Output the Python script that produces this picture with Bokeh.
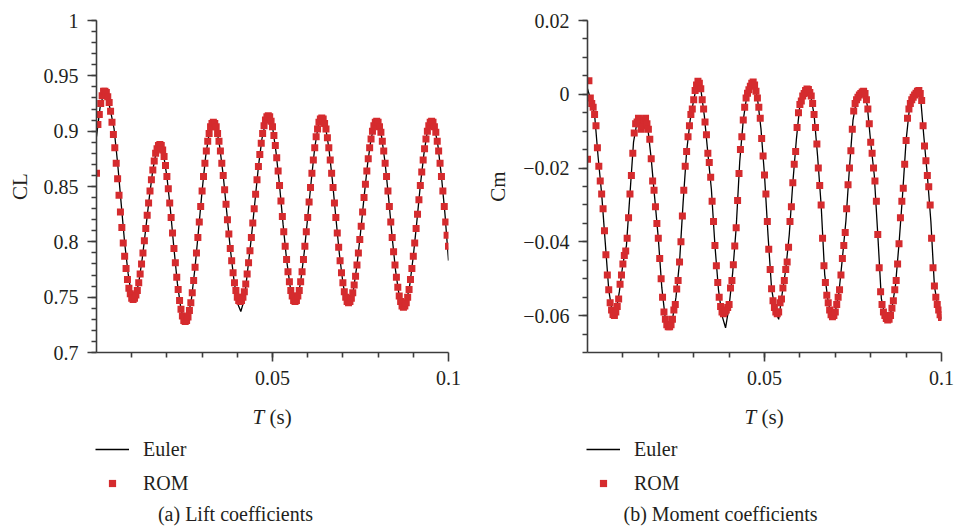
from bokeh.plotting import figure
from bokeh.models import Range1d, FixedTicker, Label, Legend, LegendItem
from bokeh.layouts import row, column
from bokeh.embed import file_html
from bokeh.resources import INLINE

# ---------------- data ----------------
ROM_DT = 0.0004
EULER_DT = 0.001

CL_ROM = [
    0.862, 0.906, 0.915, 0.925, 0.932, 0.936,
    0.936, 0.935, 0.931, 0.926, 0.918, 0.908, 0.897, 0.885, 0.871, 0.857, 0.842, 0.827, 0.813, 0.799, 0.787, 0.776, 0.766, 0.758, 0.753, 0.749, 0.748,
    0.749, 0.752, 0.756, 0.763, 0.771, 0.780, 0.790, 0.801, 0.812, 0.824, 0.835, 0.846, 0.856, 0.865, 0.873, 0.880, 0.884, 0.887, 0.888,
    0.887, 0.883, 0.877, 0.869, 0.859, 0.848, 0.835, 0.822, 0.808, 0.794, 0.781, 0.768, 0.757, 0.747, 0.739, 0.733, 0.729, 0.728,
    0.729, 0.732, 0.738, 0.745, 0.754, 0.765, 0.777, 0.790, 0.804, 0.818, 0.832, 0.846, 0.859, 0.871, 0.882, 0.891, 0.898, 0.904, 0.907, 0.908,
    0.907, 0.904, 0.898, 0.891, 0.882, 0.871, 0.860, 0.847, 0.834, 0.820, 0.807, 0.794, 0.783, 0.772, 0.763, 0.756, 0.750, 0.747, 0.746,
    0.747, 0.750, 0.755, 0.762, 0.771, 0.781, 0.792, 0.804, 0.817, 0.830, 0.843, 0.856, 0.868, 0.879, 0.889, 0.898, 0.905, 0.910, 0.913, 0.914,
    0.913, 0.909, 0.904, 0.896, 0.887, 0.876, 0.864, 0.851, 0.837, 0.823, 0.809, 0.796, 0.784, 0.773, 0.764, 0.756, 0.751, 0.747, 0.746,
    0.747, 0.751, 0.756, 0.764, 0.773, 0.784, 0.796, 0.809, 0.822, 0.836, 0.849, 0.862, 0.874, 0.885, 0.895, 0.902, 0.908, 0.911, 0.912,
    0.911, 0.907, 0.902, 0.894, 0.885, 0.874, 0.862, 0.849, 0.835, 0.822, 0.808, 0.795, 0.783, 0.772, 0.763, 0.755, 0.750, 0.746, 0.745,
    0.746, 0.749, 0.754, 0.761, 0.769, 0.779, 0.790, 0.802, 0.814, 0.827, 0.840, 0.852, 0.864, 0.875, 0.885, 0.893, 0.900, 0.905, 0.908, 0.909,
    0.908, 0.904, 0.899, 0.891, 0.882, 0.871, 0.859, 0.846, 0.832, 0.818, 0.804, 0.791, 0.779, 0.768, 0.759, 0.751, 0.746, 0.742, 0.741,
    0.742, 0.745, 0.750, 0.757, 0.766, 0.776, 0.787, 0.799, 0.812, 0.825, 0.838, 0.851, 0.863, 0.874, 0.884, 0.893, 0.900, 0.905, 0.908, 0.909,
    0.908, 0.904, 0.899, 0.891, 0.882, 0.871, 0.859, 0.846, 0.832, 0.818, 0.806, 0.796,
]

CL_EULER = [
    0.895, 0.921, 0.934, 0.933, 0.918, 0.902, 0.871, 0.835, 0.799, 0.771,
    0.750, 0.750, 0.763, 0.785, 0.812, 0.840, 0.865, 0.882, 0.888, 0.880,
    0.859, 0.829, 0.794, 0.762, 0.739, 0.728, 0.732, 0.749, 0.777, 0.811,
    0.846, 0.877, 0.898, 0.907, 0.904, 0.886, 0.860, 0.827, 0.794, 0.767,
    0.745, 0.737, 0.748, 0.776, 0.804, 0.836, 0.868, 0.893, 0.908, 0.910,
    0.904, 0.881, 0.851, 0.816, 0.784, 0.760, 0.744, 0.746, 0.764, 0.790,
    0.822, 0.855, 0.885, 0.905, 0.912, 0.905, 0.885, 0.856, 0.822, 0.789,
    0.763, 0.745, 0.744, 0.757, 0.779, 0.808, 0.840, 0.870, 0.893, 0.906,
    0.908, 0.895, 0.871, 0.839, 0.804, 0.773, 0.751, 0.742, 0.745, 0.761,
    0.787, 0.818, 0.851, 0.879, 0.900, 0.909, 0.904, 0.887, 0.859, 0.825,
    0.783,
]

CM_ROM = [
    -0.0176, 0.0037, -0.0010, -0.0025, -0.0035, -0.0055, -0.0085, -0.0145, -0.0195, -0.0235,
    -0.0270, -0.0310, -0.0370, -0.0435, -0.0490, -0.0530, -0.0565, -0.0585, -0.0597, -0.0600,
    -0.0590, -0.0575, -0.0555, -0.0515, -0.0490, -0.0460, -0.0437, -0.0425, -0.0390, -0.0335,
    -0.0270, -0.0220, -0.0160, -0.0105, -0.0080, -0.0075, -0.0065, -0.0080, -0.0095, -0.0085,
    -0.0070, -0.0065, -0.0080, -0.0095, -0.0122, -0.0175, -0.0235, -0.0260, -0.0305, -0.0350,
    -0.0390, -0.0445, -0.0500, -0.0550, -0.0590, -0.0610, -0.0625, -0.0630, -0.0630, -0.0625,
    -0.0610, -0.0585, -0.0570, -0.0528, -0.0505, -0.0455, -0.0400, -0.0330, -0.0260, -0.0195,
    -0.0155, -0.0115, -0.0085, -0.0055, -0.0040, -0.0015, 0.0010, 0.0025, 0.0035, 0.0030,
    0.0015, -0.0015, -0.0040, -0.0075, -0.0110, -0.0160, -0.0185, -0.0225, -0.0290, -0.0345,
    -0.0410, -0.0465, -0.0510, -0.0550, -0.0575, -0.0590, -0.0595, -0.0590, -0.0585, -0.0578,
    -0.0570, -0.0525, -0.0505, -0.0462, -0.0411, -0.0362, -0.0288, -0.0215, -0.0150, -0.0115,
    -0.0070, -0.0035, -0.0010, 0.0003, 0.0012, 0.0022, 0.0030, 0.0033, 0.0025, 0.0008,
    -0.0010, -0.0035, -0.0065, -0.0120, -0.0167, -0.0219, -0.0270, -0.0345, -0.0420, -0.0475,
    -0.0527, -0.0560, -0.0578, -0.0590, -0.0595, -0.0590, -0.0565, -0.0555, -0.0525, -0.0505,
    -0.0475, -0.0455, -0.0415, -0.0345, -0.0305, -0.0240, -0.0190, -0.0155, -0.0090, -0.0050,
    -0.0028, -0.0018, -0.0005, 0.0002, 0.0010, 0.0014, 0.0013, 0.0005, -0.0005, -0.0025,
    -0.0055, -0.0090, -0.0135, -0.0200, -0.0247, -0.0300, -0.0390, -0.0465, -0.0510, -0.0545,
    -0.0565, -0.0585, -0.0598, -0.0603, -0.0600, -0.0590, -0.0570, -0.0550, -0.0530, -0.0490,
    -0.0445, -0.0410, -0.0375, -0.0310, -0.0245, -0.0200, -0.0153, -0.0095, -0.0045, -0.0025,
    -0.0015, -0.0008, -0.0002, 0.0002, 0.0006, 0.0008, 0.0002, -0.0015, -0.0040, -0.0080,
    -0.0130, -0.0160, -0.0200, -0.0235, -0.0290, -0.0380, -0.0470, -0.0535, -0.0570, -0.0590,
    -0.0600, -0.0608, -0.0612, -0.0610, -0.0600, -0.0580, -0.0560, -0.0530, -0.0505, -0.0460,
    -0.0405, -0.0335, -0.0290, -0.0255, -0.0190, -0.0125, -0.0065, -0.0040, -0.0025, -0.0015,
    -0.0008, -0.0002, 0.0003, 0.0008, 0.0010, 0.0002, -0.0017, -0.0085, -0.0140, -0.0180,
    -0.0220, -0.0251, -0.0300, -0.0390, -0.0470, -0.0520, -0.0550, -0.0570, -0.0585, -0.0598,
    -0.0605,
]

CM_EULER = [
    0.0015, -0.0018, -0.0055, -0.0170, -0.0270, -0.0400, -0.0530, -0.0592, -0.0592, -0.0535,
    -0.0460, -0.0410, -0.0270, -0.0130, -0.0075, -0.0088, -0.0070, -0.0088, -0.0175, -0.0283,
    -0.0390, -0.0525, -0.0610, -0.0632, -0.0610, -0.0550, -0.0455, -0.0295, -0.0155, -0.0070,
    -0.0015, 0.0030, 0.0015, -0.0058, -0.0160, -0.0258, -0.0410, -0.0530, -0.0600, -0.0633,
    -0.0575, -0.0485, -0.0362, -0.0183, -0.0070, -0.0004, 0.0022, 0.0030, -0.0010, -0.0093,
    -0.0219, -0.0383, -0.0527, -0.0585, -0.0610, -0.0540, -0.0475, -0.0380, -0.0240, -0.0123,
    -0.0028, -0.0002, 0.0014, 0.0000, -0.0055, -0.0168, -0.0300, -0.0488, -0.0565, -0.0602,
    -0.0590, -0.0540, -0.0445, -0.0343, -0.0200, -0.0070, -0.0015, 0.0000, 0.0008, -0.0028,
    -0.0130, -0.0218, -0.0380, -0.0553, -0.0600, -0.0612, -0.0580, -0.0518, -0.0405, -0.0273,
    -0.0125, -0.0033, -0.0008, 0.0005, 0.0002, -0.0113, -0.0220, -0.0345, -0.0520, -0.0578,
    -0.0610,
]

X_TICKS = [0.05, 0.1]
X_TICK_LABELS = ["0.05", "0.1"]
CL_TICKS = [0.7, 0.75, 0.8, 0.85, 0.9, 0.95, 1.0]
CL_TICK_LABELS = ["0.7", "0.75", "0.8", "0.85", "0.9", "0.95", "1"]
CM_TICKS = [-0.06, -0.04, -0.02, 0.0, 0.02]
CM_TICK_LABELS = ["\u22120.06", "\u22120.04", "\u22120.02", "0", "0.02"]
SERIES = ["Euler", "ROM"]
X_LABEL = ("T", "(s)")
CAPTIONS = ["(a) Lift coefficients", "(b) Moment coefficients"]

FONT = "Liberation Serif"
TXT = "#231F20"
AX = "#3C3C3C"
RED = "#D52B2E"

TOP_H = 395
BOT_H = 133
FRAME_TOP = 20
FRAME_H = 332


def times(values, dt):
    return [round(i * dt, 5) for i in range(len(values))]


def make_panel(euler, rom, yr, yticks, ylabels, yminor, ylabel,
               width, mleft, mright, lab_standoff):
    p = figure(width=width, height=TOP_H, x_range=Range1d(0, 0.1),
               y_range=Range1d(*yr), output_backend="svg",
               toolbar_location=None, min_border_left=mleft,
               min_border_right=mright, min_border_top=FRAME_TOP,
               min_border_bottom=TOP_H - FRAME_TOP - FRAME_H)
    p.xgrid.visible = False
    p.ygrid.visible = False
    p.outline_line_color = None

    p.line(times(euler, EULER_DT), euler, line_color="black", line_width=1.3)
    p.scatter(times(rom, ROM_DT), rom, marker="square", size=7,
              fill_color=RED, line_color=None)

    xa = p.xaxis[0]
    xa.ticker = FixedTicker(ticks=X_TICKS,
                            minor_ticks=[round(0.01 * i, 2) for i in range(1, 10)])
    xa.major_label_overrides = dict(zip(X_TICKS, X_TICK_LABELS))
    ya = p.yaxis[0]
    ya.ticker = FixedTicker(ticks=yticks, minor_ticks=yminor)
    ya.major_label_overrides = dict(zip(yticks, ylabels))
    ya.axis_label = ylabel
    ya.axis_label_standoff = lab_standoff
    ya.axis_label_text_font = FONT
    ya.axis_label_text_font_size = "21px"
    ya.axis_label_text_font_style = "normal"
    ya.axis_label_text_color = TXT
    for a in (xa, ya):
        a.axis_line_color = AX
        a.axis_line_width = 1.6
        a.major_tick_line_color = AX
        a.minor_tick_line_color = AX
        a.major_tick_line_width = 1.6
        a.minor_tick_line_width = 1.6
        a.major_tick_in = 0
        a.major_tick_out = 9
        a.minor_tick_in = 0
        a.minor_tick_out = 5
        a.major_label_text_font = FONT
        a.major_label_text_font_size = "20px"
        a.major_label_text_color = TXT
        a.major_label_standoff = 9
    return p


def make_footer(width, frame_left, frame_w, euler, rom, caption, caption_x):
    b = figure(width=width, height=BOT_H, x_range=Range1d(0, width),
               y_range=Range1d(0, BOT_H), output_backend="svg",
               toolbar_location=None, min_border=0,
               x_axis_type=None, y_axis_type=None)
    b.xgrid.visible = False
    b.ygrid.visible = False
    b.outline_line_color = None
    tx = frame_left + frame_w / 2 - 20
    ty = BOT_H - 21
    # x-axis title  "T (s)"
    b.add_layout(Label(x=tx, y=ty, text=X_LABEL[0],
                       text_font=FONT, text_font_style="italic",
                       text_font_size="21px", text_color=TXT,
                       text_align="left", text_baseline="middle"))
    b.add_layout(Label(x=tx + 17, y=ty, text=X_LABEL[1],
                       text_font=FONT, text_font_size="21px",
                       text_color=TXT, text_align="left",
                       text_baseline="middle"))
    # hidden copies of the series, used only for the legend keys
    lr = b.line(times(euler, EULER_DT), euler, line_color="black",
                line_width=1.3, visible=False)
    sr = b.scatter(times(rom, ROM_DT), rom, marker="square", size=7,
                   fill_color=RED, line_color=None, visible=False)
    legend = Legend(items=[LegendItem(label=SERIES[0], renderers=[lr]),
                           LegendItem(label=SERIES[1], renderers=[sr])],
                    location=(frame_left - 1, BOT_H - 100),
                    orientation="vertical",
                    border_line_color=None, background_fill_alpha=0,
                    inactive_fill_alpha=0,
                    padding=0, margin=0, glyph_width=34, glyph_height=18,
                    label_height=24, spacing=10, label_standoff=14,
                    label_text_font=FONT, label_text_font_size="20px",
                    label_text_color=TXT)
    b.add_layout(legend)
    b.add_layout(Label(x=caption_x, y=BOT_H - 118, text=caption,
                       text_font=FONT, text_font_size="20px",
                       text_color=TXT, text_align="center",
                       text_baseline="middle"))
    return b


# page starts at (0, 0): left figure x 0..478, right figure x 478..956
p1 = make_panel(CL_EULER, CL_ROM, (0.7, 1.0), CL_TICKS, CL_TICK_LABELS,
                [round(0.7 + 0.01 * i, 2) for i in range(31)], "CL",
                478, 96, 30, 9)
p2 = make_panel(CM_EULER, CM_ROM, (-0.07, 0.02), CM_TICKS, CM_TICK_LABELS,
                [round(-0.07 + 0.005 * i, 3) for i in range(19)], "Cm",
                478, 109, 15, 10)
b1 = make_footer(478, 96, 352, CL_EULER, CL_ROM, CAPTIONS[0], 235)
b2 = make_footer(478, 109, 354, CM_EULER, CM_ROM, CAPTIONS[1], 242)

layout = column(row(p1, p2), row(b1, b2))
open("out.html", "w").write(file_html(layout, INLINE))
